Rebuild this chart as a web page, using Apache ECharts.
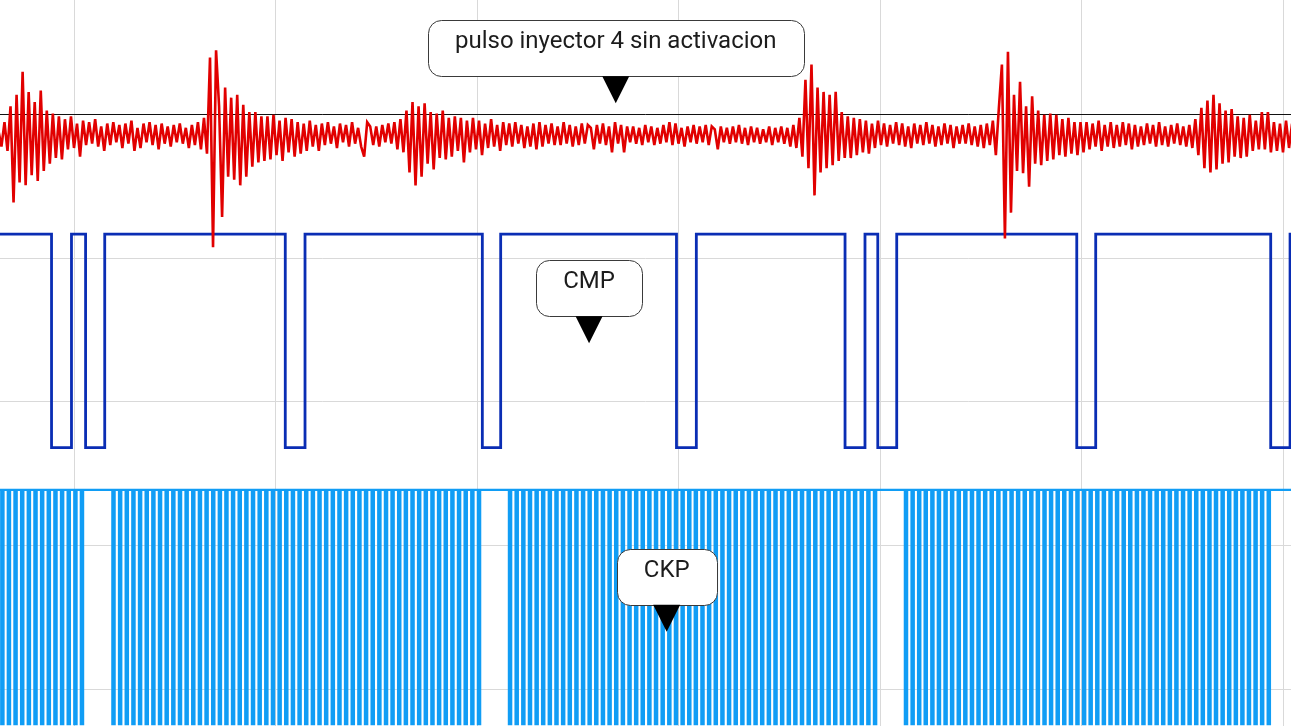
<!DOCTYPE html>
<html><head><meta charset="utf-8">
<script src="https://cdn.jsdelivr.net/npm/echarts@6/dist/echarts.min.js"></script>
<style>html,body{margin:0;padding:0;background:#fff;overflow:hidden}#c{width:1291px;height:726px}</style>
</head><body><div id="c"></div>
<script>
// ---------- DATA (time in ms, 20 ms/div) ----------
// Red channel (vibration / injector channel), sampled every redDt ms starting at redT0, values in mV
const redT0 = -7.5;
const redDt = 0.3;
const redMv = [
  30,-80,90,-110,200,-470,280,-330,440,-350,
  300,-280,230,-320,310,-250,170,-200,150,-160,
  130,-170,110,-100,130,-90,80,-150,100,-70,
  90,-60,110,-80,60,-110,80,-70,90,-50,
  70,-90,80,-60,100,-110,50,-90,80,-50,
  90,-70,70,-100,80,-60,60,-80,70,-50,
  80,-60,50,-90,70,-70,90,-100,120,-130,
  540,-780,590,200,-570,330,-290,260,-310,280,
  -350,210,-290,160,-220,160,-190,130,-180,130,
  -170,140,-140,100,-180,120,-120,110,-150,90,
  -130,80,-110,100,-80,70,-110,80,-70,90,
  -60,60,-90,80,-50,70,-80,90,-60,50,
  -80,-150,90,60,-70,60,-80,70,-50,80,
  -60,90,-100,110,-120,170,-260,230,-350,200,
  -290,220,-200,160,-240,150,-160,170,-170,120,
  -150,130,-110,120,-190,100,-120,120,-100,100,
  -140,80,-90,110,-80,70,-110,90,-70,80,
  -80,90,-60,70,-90,60,-80,80,-100,90,
  -80,70,-60,80,-70,60,-70,90,-60,70,
  -80,60,-70,80,-60,70,50,-100,70,-60,
  80,-70,60,-120,90,-60,70,-120,60,-50,
  60,-60,50,-70,70,-50,60,-70,50,-60,
  70,-50,90,-70,80,-60,50,-80,60,-50,
  70,-60,60,-50,70,-70,60,40,-100,60,
  -50,50,-60,60,-50,70,-60,50,-70,60,
  -50,50,-60,40,-50,60,-70,50,-50,60,
  -60,50,-80,70,-90,120,-150,385,-230,490,
  -420,330,-260,300,-230,280,-210,300,-180,160,
  -160,130,-160,120,-140,110,-120,100,-130,80,
  -90,100,-70,80,-80,70,-60,90,-70,80,
  -80,60,-90,80,-60,70,-70,90,-60,70,
  -80,60,-70,80,-60,70,-90,60,-60,70,
  -60,80,-70,60,-80,70,-90,80,-70,100,
  -140,190,490,-720,580,-540,280,-250,370,-265,
  200,-360,270,-200,170,-210,140,-180,150,-170,
  140,-140,110,-150,120,-130,90,-140,90,-120,
  90,-100,80,-80,100,-110,70,-80,90,-90,
  70,-80,90,-70,80,-100,70,-80,60,-70,
  80,-60,70,-80,90,-70,60,-80,70,-60,
  80,-70,60,-80,70,-90,110,-140,190,-230,
  240,-260,280,-240,220,-200,170,-190,180,-150,
  130,-160,120,-150,140,-110,100,-100,160,-100,
  160,-120,90,-110,80,-120,100,-90,80
];
const redTriggerMv = 145;

// CMP: low pulses [fall ms, rise ms], levels in V
const cmpPulses = [
  [-2.23,-0.25],[1.15,3.05],[20.97,22.93],[40.53,42.35],[59.80,61.77],
  [76.53,78.51],[79.78,81.66],[99.53,101.41],[118.78,120.70]
];
const cmpHighV = 5.0;
const cmpLowV = 0.0;

// CKP: tooth (low pulse) centre times in ms, levels in V
const ckpTeeth = [
  -7.77,-7.11,-6.46,-5.80,-5.14,-4.48,-3.82,-3.16,-2.50,-1.84,-1.18,-0.52,0.14,0.79,
  3.92,4.58,5.24,5.90,6.56,7.22,7.88,8.54,9.20,9.86,10.52,11.18,11.84,12.50,13.16,13.82,
  14.48,15.13,15.79,16.45,17.11,17.77,18.43,19.09,19.75,20.41,21.07,21.73,22.39,23.05,
  23.71,24.37,25.03,25.69,26.35,27.01,27.67,28.33,28.99,29.65,30.31,30.97,31.62,32.28,
  32.94,33.60,34.26,34.92,35.58,36.24,36.90,37.56,38.22,38.88,39.54,40.20,
  43.28,43.94,44.60,45.26,45.92,46.57,47.23,47.89,48.55,49.21,49.87,50.53,51.18,51.84,
  52.50,53.16,53.82,54.48,55.14,55.80,56.45,57.11,57.77,58.43,59.09,59.75,60.41,61.07,
  61.72,62.38,63.04,63.70,64.36,65.02,65.68,66.34,66.99,67.65,68.31,68.97,69.63,70.29,
  70.95,71.60,72.26,72.92,73.58,74.24,74.90,75.56,76.22,76.87,77.53,78.19,78.85,79.51,
  82.58,83.24,83.89,84.54,85.20,85.85,86.51,87.16,87.82,88.47,89.13,89.78,90.44,91.09,
  91.75,92.40,93.06,93.71,94.37,95.02,95.67,96.33,96.98,97.64,98.29,98.95,99.60,100.26,
  100.91,101.57,102.22,102.88,103.53,104.19,104.84,105.50,106.15,106.80,107.46,108.11,
  108.77,109.42,110.08,110.73,111.39,112.04,112.70,113.35,114.01,114.66,115.32,115.97,
  116.62,117.28,117.93,118.59
];
const ckpHighV = 5.0;
const ckpLowV = 0.0;

// Annotations: text and arrow-tip anchor [ms, div]
const noteTexts = ['pulso inyector 4 sin activacion', 'CMP', 'CKP'];
const noteTips = [[53.77, 4.076], [51.12, 2.406], [58.83, 0.399]];

// ---------- SCOPE SETTINGS ----------
const CH = {
  red: { zeroDiv: 3.855, perDiv: 1000 },
  cmp: { zeroDiv: 1.680, perDiv: 3.365 },
  ckp: { zeroDiv: -0.2436, perDiv: 3.07 }
};
const toDiv = (ch, v) => CH[ch].zeroDiv + v / CH[ch].perDiv;
const T_MIN = -20, T_MAX = 140;
const toothW = 0.22;

const redData = redMv.map((v, i) => [+(redT0 + i * redDt).toFixed(3), toDiv('red', v)]);

const cmpData = [[T_MIN, toDiv('cmp', cmpHighV)]];
cmpPulses.forEach(([f, r]) => {
  cmpData.push([f, toDiv('cmp', cmpHighV)], [f, toDiv('cmp', cmpLowV)],
               [r, toDiv('cmp', cmpLowV)], [r, toDiv('cmp', cmpHighV)]);
});
cmpData.push([T_MAX, toDiv('cmp', cmpHighV)]);

const ckpData = [[T_MIN, toDiv('ckp', ckpHighV)]];
ckpTeeth.forEach(c => {
  const a = c - toothW / 2, b = c + toothW / 2;
  ckpData.push([a, toDiv('ckp', ckpHighV)], [a, toDiv('ckp', ckpLowV)],
               [b, toDiv('ckp', ckpLowV)], [b, toDiv('ckp', ckpHighV)]);
});
ckpData.push([T_MAX, toDiv('ckp', ckpHighV)]);

const chart = echarts.init(document.getElementById('c'), null, { renderer: 'canvas' });
const axisCommon = {
  type: 'value',
  axisLabel: { show: false }, axisLine: { show: false }, axisTick: { show: false },
  splitLine: { show: true, lineStyle: { color: '#d9d9d9', width: 1 } }
};
chart.setOption({
  animation: false,
  backgroundColor: '#ffffff',
  grid: { left: -127.5, right: -193.5, top: -29.5, bottom: -106.7,
          containLabel: false, outerBoundsMode: 'none' },
  xAxis: Object.assign({}, axisCommon, { min: T_MIN, max: T_MAX, interval: 20 }),
  yAxis: Object.assign({}, axisCommon, { min: -1, max: 5, interval: 1 }),
  series: [
    { name: 'CKP', type: 'line', data: ckpData, showSymbol: false, symbol: 'none', z: 2,
      lineStyle: { color: '#109df5', width: 2.3, join: 'miter' } },
    { name: 'CMP', type: 'line', data: cmpData, showSymbol: false, symbol: 'none', z: 3,
      lineStyle: { color: '#0a2db4', width: 2.8, join: 'miter' } },
    { name: 'Inyector', type: 'line', data: redData, showSymbol: false, symbol: 'none', z: 4,
      lineStyle: { color: '#e10000', width: 2.6, join: 'miter', miterLimit: 3 },
      markLine: { silent: true, symbol: 'none', z: 1, animation: false,
        label: { show: false },
        lineStyle: { color: '#111111', width: 1, type: 'solid' },
        data: [{ yAxis: toDiv('red', redTriggerMv) }] } }
  ]
});

const graphics = [];
const ctx = document.createElement('canvas').getContext('2d');
noteTexts.forEach((txt, i) => {
  const p = chart.convertToPixel({ gridIndex: 0 }, noteTips[i]);
  const fontPx = 24;
  ctx.font = fontPx + 'px Roboto';
  const tw = ctx.measureText(txt).width;
  const boxW = Math.round(tw + 54);
  const boxH = 56, triH = 27, triHalf = 13.5;
  const bx = Math.round(p[0] - boxW / 2) + 0.5;
  const by = Math.round(p[1] - triH - boxH) + 0.5;
  graphics.push({
    type: 'group', z: 100, children: [
      { type: 'rect', z: 100, shape: { x: bx, y: by, width: boxW, height: boxH, r: 13 },
        style: { fill: '#ffffff', stroke: '#3a3a3a', lineWidth: 1 } },
      { type: 'polygon', z: 101, shape: { points: [[p[0] - triHalf, p[1] - triH], [p[0] + triHalf, p[1] - triH], [p[0], p[1]]] },
        style: { fill: '#000000' } },
      { type: 'text', z: 102, style: { x: p[0], y: by + 21, text: txt, font: fontPx + 'px Roboto', fill: '#1c1c1c',
        textAlign: 'center', textVerticalAlign: 'middle', align: 'center', verticalAlign: 'middle' } }
    ]
  });
});
chart.setOption({ graphic: graphics });
</script>
</body></html>
